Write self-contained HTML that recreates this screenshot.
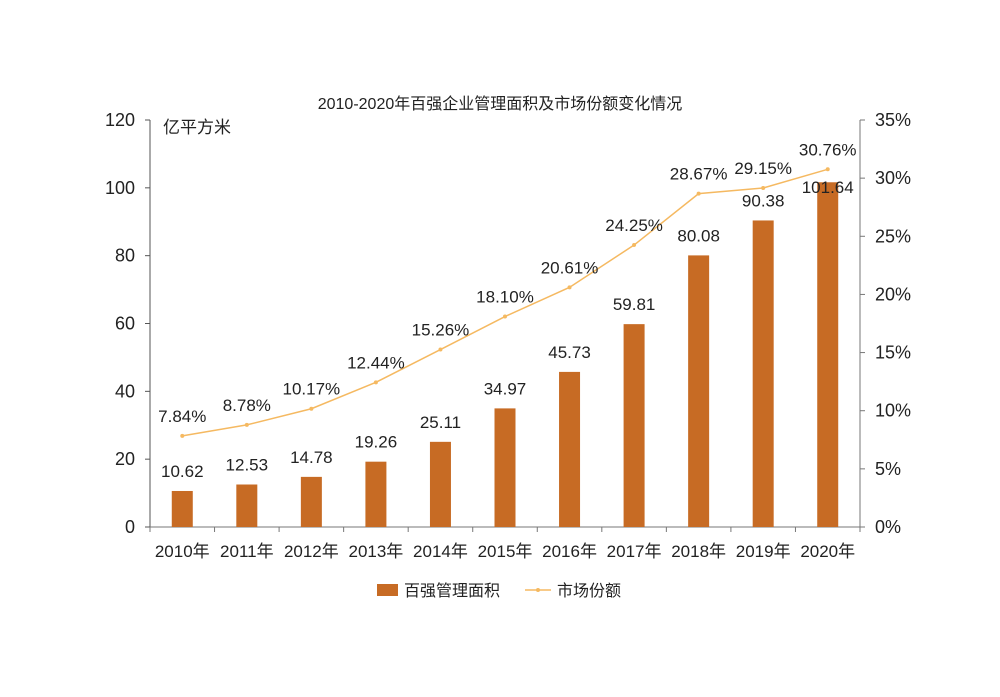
<!DOCTYPE html>
<html><head><meta charset="utf-8"><style>
body{margin:0;background:#fff;}
svg text{font-family:"Liberation Sans","Noto Sans CJK SC",sans-serif;fill:#222;}
</style></head><body>
<svg id="chart" width="1000" height="692" xmlns="http://www.w3.org/2000/svg">
<text x="500" y="109" font-size="16" text-anchor="middle">2010-2020年百强企业管理面积及市场份额变化情况</text>
<text x="163" y="133" font-size="17">亿平方米</text>
<g id="axes"></g><g id="bars"></g><g id="line"></g><g id="labels"></g>
<g>
<rect x="377" y="584" width="21" height="12" fill="#C76B24"/>
<text x="404" y="596" font-size="16">百强管理面积</text>
<line x1="525" y1="590" x2="551" y2="590" stroke="#F5B961" stroke-width="1.5"/>
<circle cx="538" cy="590" r="2" fill="#F5B961"/>
<text x="557" y="596" font-size="16">市场份额</text>
</g>
</svg>
<script>
const categories=["2010年","2011年","2012年","2013年","2014年","2015年","2016年","2017年","2018年","2019年","2020年"];
const areaValues=[10.62,12.53,14.78,19.26,25.11,34.97,45.73,59.81,80.08,90.38,101.64];
const shareValues=[7.84,8.78,10.17,12.44,15.26,18.10,20.61,24.25,28.67,29.15,30.76];
const leftTicks=[0,20,40,60,80,100,120];
const rightTicks=[0,5,10,15,20,25,30,35];
const NS="http://www.w3.org/2000/svg";
const X0=150,X1=860,Y0=527,Y1=120;
const bw=(X1-X0)/categories.length;
const xc=i=>X0+bw*(i+0.5);
const yL=v=>Y0-(v/120)*(Y0-Y1);
const yR=v=>Y0-(v/35)*(Y0-Y1);
function mk(tag,attrs,parent,text){const e=document.createElementNS(NS,tag);for(const k in attrs)e.setAttribute(k,attrs[k]);if(text!==undefined)e.textContent=text;document.getElementById(parent).appendChild(e);return e;}
let e;
e=mk("line",{x1:X0,y1:Y1,x2:X0,y2:Y0,stroke:"#555"},"axes");


e=mk("line",{x1:X1,y1:Y1,x2:X1,y2:Y0,stroke:"#777"},"axes");


e=mk("line",{x1:X0-5,y1:Y0,x2:X1+5,y2:Y0,stroke:"#777"},"axes");


leftTicks.forEach(t=>{mk("line",{x1:X0-5,y1:yL(t),x2:X0,y2:yL(t),stroke:"#555"},"axes");
e=mk("text",{x:X0-15,y:yL(t)+6,"font-size":18,"text-anchor":"end"},"axes",t);

});
rightTicks.forEach(t=>{mk("line",{x1:X1,y1:yR(t),x2:X1+5,y2:yR(t),stroke:"#777"},"axes");
e=mk("text",{x:X1+15,y:yR(t)+6,"font-size":18},"axes",t+"%");

});
for(let i=0;i<=categories.length;i++)mk("line",{x1:X0+bw*i,y1:Y0,x2:X0+bw*i,y2:Y0+5,stroke:"#777"},"axes");
categories.forEach((c,i)=>{e=mk("text",{x:xc(i),y:557,"font-size":17,"text-anchor":"middle"},"axes",c);

});
areaValues.forEach((v,i)=>{
e=mk("rect",{x:xc(i)-10.5,y:yL(v),width:21,height:Y0-yL(v),fill:"#C76B24"},"bars");


e=mk("text",{x:xc(i),y:Math.max(yL(v)-14,193),"font-size":17,"text-anchor":"middle"},"labels",v.toFixed(2));

});
e=mk("polyline",{points:shareValues.map((v,i)=>xc(i)+","+yR(v)).join(" "),fill:"none",stroke:"#F5B961","stroke-width":1.5},"line");


shareValues.forEach((v,i)=>{
e=mk("circle",{cx:xc(i),cy:yR(v),r:2,fill:"#F5B961"},"line");


e=mk("text",{x:xc(i),y:yR(v)-14,"font-size":17,"text-anchor":"middle"},"labels",v.toFixed(2)+"%");

});
</script>
</body></html>
